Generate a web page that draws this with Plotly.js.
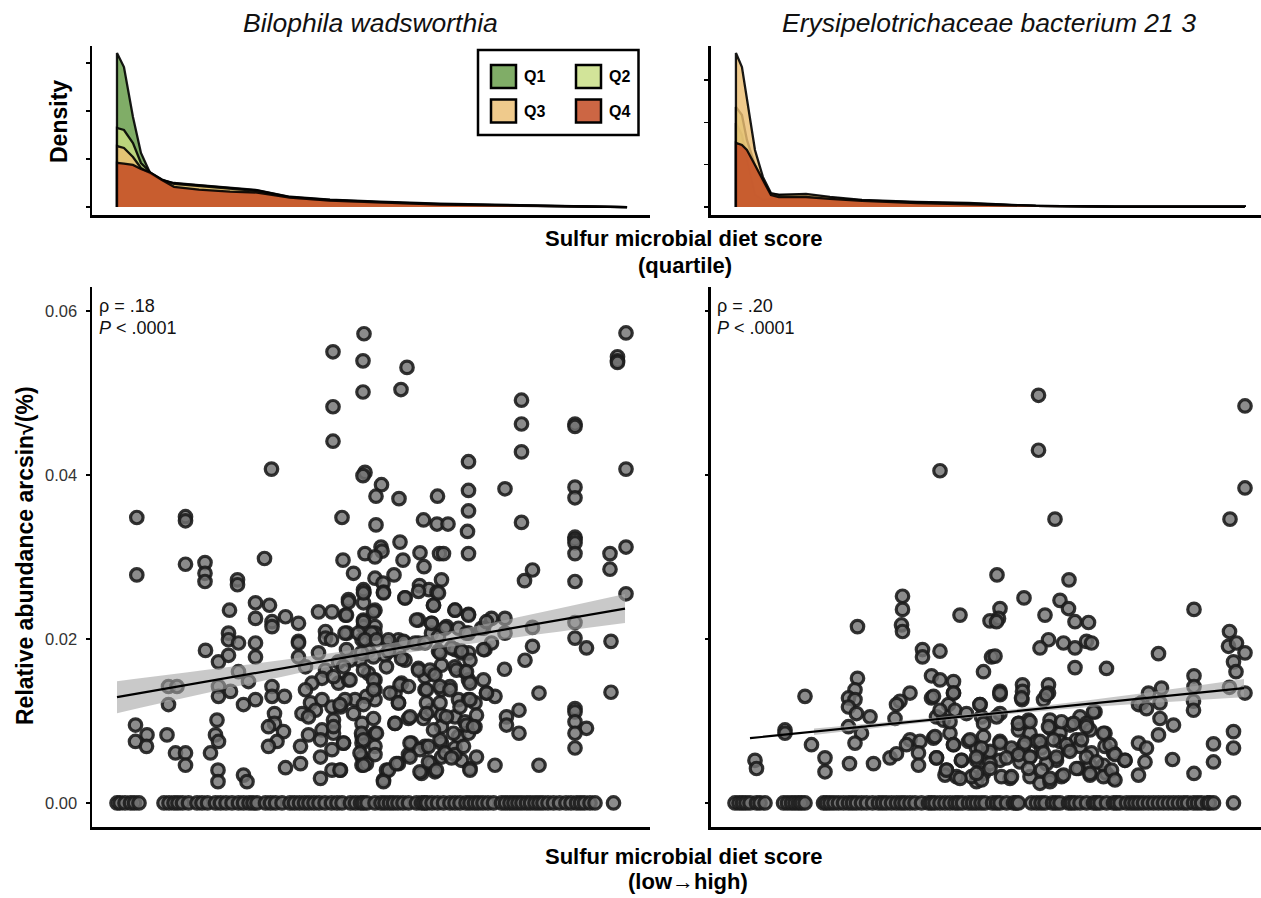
<!DOCTYPE html>
<html><head><meta charset="utf-8">
<script src="https://cdn.plot.ly/plotly-3.0.1.min.js"></script>
<style>html,body{margin:0;padding:0;background:#fff}#chart{width:1261px;height:898px}</style>
</head><body><div id="chart"></div>
<script>
// ---------------- DATA ----------------
const quartiles = ['Q1','Q2','Q3','Q4'];
const quartileFill = ['rgba(100,155,70,0.82)','rgba(200,222,130,0.82)','rgba(235,190,115,0.82)','rgba(195,75,35,0.85)'];

// Density panel, Bilophila wadsworthia (x = relative abundance, y = density)
const bwDensX = [0,.00082,.00188,.00282,.0040,.00529,.00671,.00965,.01329,.01647,.02035,.02506,.03094,.038,.04741,.06];
const bwDensQ1 = [160.4,145.8,93.8,56.3,33.3,28.1,25.0,22.9,20.3,17.7,10.7,7.8,5.7,3.6,1.9,0.3];
const bwDensQ2 = [82.3,80.2,66.7,45.8,35.4,28.6,24.5,22.4,19.8,17.2,10.4,7.3,5.2,3.1,1.6,0.3];
const bwDensQ3 = [63.5,61.5,52.1,40.6,34.4,28.1,24.0,21.9,19.3,16.7,9.9,6.8,4.7,2.8,1.5,0.3];
const bwDensQ4 = [46.1,45.3,43.8,39.6,35.4,28.1,21.1,18.2,16.1,15.1,9.9,6.8,4.7,2.6,1.25,0.3];

// Density panel, Erysipelotrichaceae bacterium 21 3
const ebDensX = [0,.00059,.00108,.00187,.00265,.00344,.00422,.00688,.00923,.01238,.01778,.02289,.02947,.03723,.05];
const ebDensQ1 = [99.3,85.1,55.6,14.2,8.3,9.5,11.8,13.0,10.6,7.1,5.3,3.5,1.2,0.4,0.4];
const ebDensQ2 = [118.2,108.7,79.2,49.6,28.4,15.4,14.2,14.2,10.6,7.7,5.3,4.1,1.2,0.4,0.4];
const ebDensQ3 = [182,165.5,126.5,67.4,35.5,16.5,14.2,15.4,11.8,8.3,5.9,4.7,1.2,0.4,0.4];
const ebDensQ4 = [75.7,73.3,67.4,49.6,31.9,14.2,11.8,11.8,9.5,7.1,4.7,3.5,1.2,0.4,0.4];

// Scatter, Bilophila wadsworthia: sulfur microbial diet score (0-100) vs abundance
const bwScore = [3.96,3.96,13.7,13.7,13.7,17.6,17.6,17.6,24.1,24.1,29.5,30.9,43.2,43.2,43.2,45.0,45.2,47.3,49.4,49.2,49.2,49.6,49.2,52.9,51.8,56.4,51.8,49.6,52.8,53.0,51.6,56.6,57.2,51.6,53.2,53.3,49.4,55.4,58.0,56.8,60.6,61.3,61.4,64.1,64.0,66.2,64.5,65.3,64.9,60.5,62.4,64.0,70.3,70.3,70.3,70.1,70.3,77.6,80.9,80.9,80.9,80.9,81.5,83.1,91.6,91.6,91.6,91.6,91.6,91.6,91.6,91.6,91.6,98.6,98.6,101.8,100.1,100.1,100.1,101.8,101.8,101.8,49.3,
22.5,27.7,30.5,27.7,31.0,31.0,33.7,36.3,40.3,43.0,46.3,45.7,46.0,49.3,49.3,49.3,41.7,41.7,36.3,36.3,22.3,22.3,24.3,27.7,17.7,20.3,22.3,24.3,26.3,27.7,36.3,37.7,40.3,41.7,44.3,41.0,39.0,44.3,46.3,10.3,12.0,10.3,20.3,20.3,22.7,25.3,27.7,31.0,31.0,33.5,31.5,31.5,37.7,38.7,41.0,39.7,37.0,38.3,43.0,44.7,43.3,41.0,43.3,45.3,49.0,49.0,49.0,3.7,6.0,3.7,5.9,10.0,11.7,13.7,13.7,18.7,20.0,19.7,20.3,20.2,20.2,25.3,26.0,30.3,33.3,32.0,30.3,36.7,36.7,33.7,38.3,40.7,40.7,40.7,43.0,43.0,44.7,49.0,49.0,
57.6,63.3,51.6,51.6,51.6,60.3,62.9,67.6,70.3,65.9,62.9,64.3,74.9,77.6,73.3,77.6,70.3,83.1,91.6,91.6,93.9,98.8,83.1,81.6,73.6,74.9,54.3,56.3,57.6,50.3,53.6,56.3,57.6,60.3,64.3,67.6,68.9,70.3,64.9,60.3,61.6,63.3,67.6,69.6,70.3,77.5,51.6,50.3,51.6,51.6,56.9,55.6,56.3,61.6,64.9,66.6,68.3,70.3,71.6,73.9,75.6,84.4,98.8,91.6,91.6,91.6,93.9,91.6,91.6,80.4,77.9,77.9,80.4,55.6,58.3,61.3,62.9,64.9,64.9,67.6,69.6,71.6,68.3,70.3,51.6,51.6,58.9,61.6,64.9,67.6,58.3,56.3,53.9,53.3,60.9,62.9,63.6,64.9,68.9,70.6,67.6,75.6,84.4,49.9,49.0,48.6,47.6,46.6,45.6,
46.3,49.3,53.3,57.6,60.3,63.3,64.3,67.6,70.3,45.9,51.3,49.3,45.6,48.3,50.9,49.6,51.9,54.3,57.3,59.9,62.9,65.6,68.3,69.9,72.9,73.9,42.9,45.9,48.9,51.3,54.3,56.9,59.6,61.6,64.6,66.9,68.9,70.6,73.3,43.3,45.3,46.6,49.3,51.3,53.9,56.6,60.3,62.6,63.6,61.9,64.6,66.6,67.9,69.9,70.6,73.3,73.9,44.6,47.3,49.9,51.3,49.3,54.6,56.3,58.3,55.6,58.6,61.9,61.9,64.6,65.9,68.6,70.6,71.9,69.9,51.3,43.3,45.3,48.9,51.9,49.3,48.6,51.6,58.6,60.6,62.3,64.6,63.3,67.3,69.3,71.3,71.9,44.6,49.3,54.3,55.9,58.6,60.6,62.3,63.9,65.6,66.9,70.6,53.3];
const bwAbund = [.0348,.0278,.0349,.0344,.0291,.0293,.0280,.0270,.0272,.0266,.0298,.0407,.0550,.0483,.0441,.0348,.0296,.0280,.0572,.0539,.0501,.0403,.0399,.0388,.0374,.0371,.0339,.0304,.0312,.0307,.0300,.0318,.0296,.0274,.0268,.0257,.0257,.0278,.0531,.0504,.0305,.0345,.0288,.0374,.0340,.0340,.0304,.0304,.0272,.0265,.0260,.0257,.0416,.0381,.0356,.0331,.0304,.0383,.0491,.0462,.0428,.0342,.0271,.0284,.0462,.0459,.0385,.0372,.0324,.0321,.0317,.0304,.0270,.0304,.0285,.0312,.0544,.0539,.0537,.0573,.0407,.0255,.0260,
.0235,.0244,.0241,.0225,.0221,.0215,.0227,.0219,.0233,.0233,.0248,.0229,.0207,.0244,.0223,.0215,.0209,.0201,.0197,.0195,.0207,.0199,.0195,.0195,.0186,.0172,.0180,.0160,.0148,.0178,.0178,.0166,.0183,.0162,.0172,.0152,.0146,.0146,.0150,.0142,.0142,.0120,.0142,.0130,.0136,.0120,.0126,.0142,.0130,.0130,.0109,.0097,.0138,.0122,.0126,.0113,.0109,.0105,.0117,.0117,.0101,.0089,.0085,.0073,.0097,.0081,.0073,.0095,.0083,.0075,.0069,.0083,.0061,.0061,.0046,.0061,.0101,.0083,.0075,.0040,.0026,.0034,.0026,.0093,.0087,.0075,.0069,.0069,.0048,.0043,.0083,.0077,.0056,.0030,.0065,.0040,.0040,.0056,.0046,
.0250,.0241,.0235,.0215,.0207,.0223,.0219,.0235,.0230,.0215,.0207,.0203,.0225,.0225,.0213,.0207,.0207,.0214,.0220,.0201,.0189,.0197,.0191,.0174,.0187,.0195,.0195,.0199,.0195,.0185,.0180,.0185,.0174,.0195,.0185,.0187,.0183,.0183,.0168,.0164,.0154,.0158,.0166,.0160,.0150,.0163,.0150,.0158,.0138,.0126,.0146,.0134,.0122,.0138,.0138,.0142,.0126,.0126,.0122,.0134,.0130,.0134,.0135,.0115,.0111,.0099,.0091,.0085,.0067,.0113,.0105,.0095,.0085,.0097,.0103,.0103,.0113,.0107,.0093,.0105,.0099,.0093,.0081,.0085,.0085,.0069,.0073,.0069,.0073,.0067,.0059,.0048,.0040,.0028,.0036,.0048,.0038,.0056,.0052,.0042,.0059,.0046,.0046,.0048,.0199,.0174,.0126,.0174,.0126,
.0245,.0256,.0256,.0250,.0258,.0241,.0256,.0235,.0229,.0229,.0233,.0221,.0207,.0207,.0207,.0199,.0199,.0199,.0197,.0223,.0219,.0213,.0213,.0207,.0213,.0221,.0199,.0187,.0183,.0178,.0185,.0176,.0195,.0195,.0183,.0189,.0185,.0174,.0187,.0154,.0166,.0150,.0162,.0150,.0166,.0144,.0162,.0162,.0156,.0138,.0142,.0138,.0162,.0160,.0146,.0150,.0134,.0120,.0109,.0130,.0138,.0120,.0134,.0122,.0142,.0097,.0105,.0122,.0109,.0122,.0105,.0117,.0126,.0107,.0095,.0103,.0093,.0073,.0085,.0085,.0077,.0061,.0059,.0073,.0065,.0069,.0077,.0089,.0085,.0069,.0093,.0056,.0040,.0046,.0040,.0048,.0056,.0038,.0050,.0040,.0061,.0055,.0040,.0026];
const bwZeroScore = [0,0.6,1.6,2.7,3.5,4.4,9.4,10.4,11.4,12.2,13.1,14.3,16.0,17.0,18.1,19.7,20.7,21.8,23.0,24.3,25.3,26.4,27.2,28.0,29.7,30.7,31.7,33.0,34.6,35.5,36.5,37.5,38.4,39.4,40.4,41.6,42.9,44.0,45.0,46.7,47.7,48.7,49.3,50.0,51.6,52.8,53.6,54.5,55.3,56.2,57.2,58.3,59.9,60.9,61.5,62.0,63.0,64.1,65.3,66.6,67.6,68.6,69.8,70.6,71.5,72.3,73.2,74.2,75.3,76.9,77.7,78.6,79.4,80.2,81.0,81.9,82.7,83.6,84.4,85.2,86.2,87.3,88.5,89.8,90.8,91.9,92.7,93.5,94.6,95.6,99.3];

// Scatter, Erysipelotrichaceae bacterium 21 3
const ebScore = [60.7,60.7,41.0,64.0,102.0,102.0,99.0,52.4,66.8,33.5,57.8,65.0,33.5,33.3,33.5,45.0,24.5,51.0,37.5,37.5,41.0,49.7,51.3,24.5,24.0,22.7,24.0,22.7,24.3,27.0,14.0,39.3,41.0,43.7,43.7,39.3,42.7,44.0,35.0,33.0,32.3,49.0,49.3,32.0,40.3,41.7,10.0,10.0,22.7,25.3,24.0,15.3,35.0,34.3,37.0,39.7,43.0,43.7,46.7,48.3,49.7,4.0,4.3,18.0,18.0,22.9,27.7,31.0,32.3,36.7,36.7,40.3,42.3,42.0,44.3,45.3,48.3,48.3,49.7,47.3,50.7,
53.0,52.7,52.3,66.7,68.0,70.7,62.0,62.7,61.0,65.7,68.0,70.3,71.3,68.0,74.3,52.0,91.8,84.7,98.9,98.7,100.3,102.0,99.7,100.2,91.8,91.8,98.9,102.0,91.7,91.7,57.5,57.5,57.4,62.7,62.7,61.7,53.0,53.0,82.7,85.3,85.0,81.3,80.7,82.3,72.0,85.0,87.7,84.7,99.7,99.7,95.7,95.7,87.5,91.8,80.7,82.3,82.0,80.7,53.0,56.7,58.7,56.7,59.0,63.0,63.0,65.0,67.0,69.0,70.3,71.0,74.0,68.3,53.0,51.0,53.0,55.7,57.7,60.3,61.3,59.0,57.0,65.0,66.7,64.3,62.3,69.0,71.3,74.0,75.7,78.0,68.7,71.0,74.3,75.7,55.0,59.0,61.0,63.0,65.3,49.3,71.0,73.7,
39.7,43.7,49.0,53.0,57.3,62.3,41.0,43.0,46.3,49.7,52.3,56.7,59.0,62.7,65.3,67.7,70.3,71.7,40.0,43.7,47.0,49.3,53.0,55.3,58.0,61.0,63.7,66.3,69.3,73.7,75.0,40.3,45.3,48.3,51.0,54.3,56.7,59.0,61.7,64.3,67.0,70.3,72.3,76.0,78.0,42.3,45.0,48.3,51.0,53.3,55.3,58.7,61.3,63.0,65.7,68.3,71.0,73.7,75.3,76.0];
const ebAbund = [.0497,.0430,.0405,.0346,.0484,.0384,.0346,.0278,.0272,.0252,.0250,.0247,.0236,.0217,.0209,.0229,.0215,.0222,.0187,.0178,.0185,.0160,.0178,.0152,.0138,.0128,.0126,.0117,.0109,.0105,.0130,.0155,.0150,.0148,.0134,.0128,.0120,.0113,.0134,.0124,.0120,.0120,.0105,.0103,.0105,.0101,.0089,.0085,.0093,.0085,.0073,.0071,.0077,.0071,.0075,.0079,.0085,.0071,.0075,.0067,.0081,.0052,.0042,.0055,.0038,.0048,.0048,.0055,.0060,.0061,.0046,.0055,.0040,.0034,.0032,.0052,.0052,.0026,.0036,.0032,.0061,
.0237,.0225,.0221,.0237,.0221,.0220,.0229,.0199,.0189,.0195,.0189,.0197,.0195,.0165,.0164,.0179,.0236,.0182,.0209,.0191,.0195,.0183,.0172,.0160,.0155,.0142,.0141,.0134,.0124,.0113,.0144,.0136,.0126,.0144,.0134,.0126,.0136,.0132,.0134,.0140,.0122,.0122,.0120,.0115,.0111,.0103,.0095,.0083,.0087,.0067,.0072,.0050,.0053,.0036,.0073,.0067,.0050,.0034,.0109,.0097,.0101,.0089,.0085,.0101,.0091,.0085,.0095,.0105,.0097,.0089,.0085,.0077,.0075,.0063,.0052,.0063,.0069,.0075,.0067,.0056,.0050,.0075,.0065,.0052,.0048,.0069,.0061,.0069,.0061,.0052,.0042,.0046,.0036,.0030,.0030,.0032,.0024,.0026,.0032,.0028,.0034,.0046,
.0130,.0134,.0120,.0134,.0128,.0132,.0113,.0099,.0109,.0097,.0105,.0097,.0099,.0093,.0099,.0097,.0093,.0111,.0081,.0071,.0077,.0067,.0073,.0067,.0073,.0075,.0077,.0071,.0077,.0085,.0071,.0055,.0052,.0056,.0048,.0055,.0059,.0056,.0061,.0056,.0063,.0056,.0050,.0059,.0052,.0040,.0030,.0036,.0042,.0032,.0032,.0042,.0040,.0030,.0034,.0042,.0036,.0032,.0040,.0028];
const ebZeroScore = [0,0.8,1.5,2.2,3,4.3,5,6,9.7,10.5,11.3,12,12.7,13.3,14,17.7,18.3,19,19.8,20.7,21.7,22.7,23.5,24.3,25.3,26.3,27.5,28.7,29.5,30.3,31.3,32.3,33.2,34,35,36,37.3,38.7,39.3,40,41,42,43,44,44.7,45.5,46.7,47.5,48.3,49.2,50,51.5,52.3,53,54.3,55.7,56.2,56.7,59.3,60.3,61.2,62,63.5,64.2,65,66.7,67.3,68,69,70.3,71.7,72.3,73,74.3,75.7,76.3,77,78.3,79.2,80,80.8,81.7,82.7,83.7,84.7,85.7,86.7,87.7,88.7,89.7,90.5,91.7,92.5,93.3,94.5,94.9,95.7,99.7];

// Linear fits with 95% confidence band
const bwFitX = [0,25,50,75,101.6];
const bwFitY = [.0129,.01556,.01822,.02087,.0237];
const bwFitLo = [.01095,.01434,.01749,.01977,.02193];
const bwFitHi = [.01485,.01678,.01895,.02197,.02547];
const ebLineX = [3,101.8];
const ebLineY = [.0079,.0140];
const ebBandX = [15.8,40,60,80,101.8];
const ebBandLo = [.00829,.00993,.01112,.01205,.0129];
const ebBandHi = [.00909,.01043,.01172,.01325,.0151];

const panelTitles = ['Bilophila wadsworthia','Erysipelotrichaceae bacterium 21 3'];
const rhoText = ['ρ = .18','ρ = .20'];
const pText = '<i>P</i> < .0001';
const yTickVals = [0,0.02,0.04,0.06];
const yTickText = ['0.00','0.02','0.04','0.06'];

// ---------------- BUILD ----------------
const W = 1261, H = 898, F = 'Liberation Sans, Arial, sans-serif';
const px = v => v / W, py = v => 1 - v / H;

const ptMarker = {size:12.5, color:'rgba(115,115,115,0.82)', line:{color:'rgba(28,28,28,0.9)', width:3.2}};
function scatterTrace(xs, ys, xa, ya){
  return {type:'scatter', mode:'markers', x:xs, y:ys, xaxis:xa, yaxis:ya, marker:ptMarker, showlegend:false, hoverinfo:'skip'};
}
function densTrace(xs, ys, i, xa, ya){
  return {type:'scatter', mode:'lines', x:[xs[0]].concat(xs, [xs[xs.length-1]]), y:[0].concat(ys, [0]),
    fill:'toself', fillcolor:quartileFill[i], line:{color:'rgba(0,0,0,0.9)', width:2.3, shape:'linear'},
    xaxis:xa, yaxis:ya, showlegend:false, hoverinfo:'skip', name:quartiles[i]};
}
function band(xs, lo, hi, xa, ya){
  return [
    {type:'scatter', mode:'lines', x:xs, y:lo, line:{width:0, shape:'spline'}, xaxis:xa, yaxis:ya, showlegend:false, hoverinfo:'skip'},
    {type:'scatter', mode:'lines', x:xs, y:hi, line:{width:0, shape:'spline'}, fill:'tonexty', fillcolor:'rgba(165,165,165,0.6)', xaxis:xa, yaxis:ya, showlegend:false, hoverinfo:'skip'}
  ];
}

const traces = [];
[bwDensQ1,bwDensQ2,bwDensQ3,bwDensQ4].forEach((d,i)=>traces.push(densTrace(bwDensX,d,i,'x3','y3')));
[ebDensQ1,ebDensQ2,ebDensQ3,ebDensQ4].forEach((d,i)=>traces.push(densTrace(ebDensX,d,i,'x4','y4')));
traces.push(scatterTrace(bwZeroScore, bwZeroScore.map(()=>0), 'x', 'y'));
traces.push(scatterTrace(bwScore, bwAbund, 'x', 'y'));
traces.push(scatterTrace(ebZeroScore, ebZeroScore.map(()=>0), 'x2', 'y2'));
traces.push(scatterTrace(ebScore, ebAbund, 'x2', 'y2'));
traces.push(...band(bwFitX, bwFitLo, bwFitHi, 'x', 'y'));
traces.push({type:'scatter', mode:'lines', x:[bwFitX[0], bwFitX[bwFitX.length-1]], y:[bwFitY[0], bwFitY[bwFitY.length-1]], line:{color:'#000', width:2.2}, xaxis:'x', yaxis:'y', showlegend:false, hoverinfo:'skip'});
traces.push(...band(ebBandX, ebBandLo, ebBandHi, 'x2', 'y2'));
traces.push({type:'scatter', mode:'lines', x:ebLineX, y:ebLineY, line:{color:'#000', width:2.2}, xaxis:'x2', yaxis:'y2', showlegend:false, hoverinfo:'skip'});

const axBase = {showgrid:false, zeroline:false, showline:true, linecolor:'#000', linewidth:2.5, fixedrange:true};
const dL = [px(92), px(650)], dR = [px(710.5), 1];
const dScatter = [py(827), py(287)], dDens = [py(215), py(46)];

const layout = {
  width:W, height:H, margin:{l:0,r:0,t:0,b:0}, paper_bgcolor:'#fff', plot_bgcolor:'rgba(0,0,0,0)',
  font:{family:F, color:'#111'}, showlegend:false,
  xaxis: Object.assign({}, axBase, {domain:dL, range:[-5,106.6], anchor:'y', showticklabels:false, ticks:''}),
  yaxis: Object.assign({}, axBase, {domain:dScatter, range:[-0.00293,0.0629], anchor:'x', tickvals:yTickVals, ticktext:yTickText,
          ticks:'outside', ticklen:4, tickwidth:1.5, tickcolor:'#000', ticklabelstandoff:5, tickfont:{size:16.5, color:'#333', family:F}}),
  xaxis2: Object.assign({}, axBase, {domain:dR, range:[-4.9,105.2], anchor:'y2', showticklabels:false, ticks:''}),
  yaxis2: Object.assign({}, axBase, {domain:dScatter, range:[-0.00293,0.0629], anchor:'x2', tickvals:yTickVals,
          showticklabels:false, ticks:'outside', ticklen:3, tickwidth:1.5, tickcolor:'#000'}),
  xaxis3: Object.assign({}, axBase, {domain:dL, range:[-0.00294,0.0627], anchor:'y3', showticklabels:false, ticks:''}),
  yaxis3: Object.assign({}, axBase, {domain:dDens, range:[-8.3,167.7], anchor:'x3', tickvals:[0,50,100,150],
          showticklabels:false, ticks:'outside', ticklen:4, tickwidth:1.5, tickcolor:'#000'}),
  xaxis4: Object.assign({}, axBase, {domain:dR, range:[-0.0025,0.0516], anchor:'y4', showticklabels:false, ticks:''}),
  yaxis4: Object.assign({}, axBase, {domain:dDens, range:[-9.5,190.3], anchor:'x4', tickvals:[0,50,100,150],
          showticklabels:false, ticks:'outside', ticklen:4, tickwidth:1.5, tickcolor:'#000'}),
  annotations: [], shapes: []
};

const ann = (text, x, y, o) => Object.assign({text:text, x:px(x), y:py(y), xref:'paper', yref:'paper', showarrow:false,
  xanchor:'center', yanchor:'middle', font:{family:F, size:22, color:'#000'}}, o||{});

layout.annotations.push(ann('<i>'+panelTitles[0]+'</i>', 370, 23, {font:{family:F, size:26.5, color:'#111'}}));
layout.annotations.push(ann('<i>'+panelTitles[1]+'</i>', 989, 23, {font:{family:F, size:26.5, color:'#111'}}));
layout.annotations.push(ann('<b>Density</b>', 59, 122, {textangle:-90, font:{family:F, size:23, color:'#000'}}));
layout.annotations.push(ann('<b>Sulfur microbial diet score</b>', 683.5, 239));
layout.annotations.push(ann('<b>(quartile)</b>', 684.5, 265));
layout.annotations.push(ann('<b>Sulfur microbial diet score</b>', 683.5, 856));
layout.annotations.push(ann('<b>(low→high)</b>', 688, 881));
layout.annotations.push(ann('<b>Relative abundance arcsin√(%)</b>', 25, 556, {textangle:-90, font:{family:F, size:23, color:'#000'}}));
[[97,0],[715,1]].forEach(([x,i])=>{
  layout.annotations.push(ann(rhoText[i], x, 306, {xanchor:'left', font:{family:F, size:18, color:'#111'}}));
  layout.annotations.push(ann(pText, x, 328, {xanchor:'left', font:{family:F, size:18, color:'#111'}}));
});

// legend box
layout.shapes.push({type:'rect', xref:'paper', yref:'paper', x0:px(478), x1:px(638.5), y0:py(135), y1:py(50), line:{color:'#000', width:2.5}, fillcolor:'#fff', layer:'above'});
quartiles.forEach((q,i)=>{
  const col = i % 2, row = Math.floor(i / 2);
  const x0 = 491 + col*85, y0 = 65 + row*34.5;
  layout.shapes.push({type:'rect', xref:'paper', yref:'paper', x0:px(x0), x1:px(x0+25), y0:py(y0+23), y1:py(y0), fillcolor:quartileFill[i], line:{color:'#000', width:2.5}, layer:'above'});
  layout.annotations.push(ann('<b>'+q+'</b>', x0+31, y0+11.5, {xanchor:'left', font:{family:F, size:16, color:'#000'}}));
});

Plotly.newPlot('chart', traces, layout, {displayModeBar:false, staticPlot:true});
</script>
</body></html>
